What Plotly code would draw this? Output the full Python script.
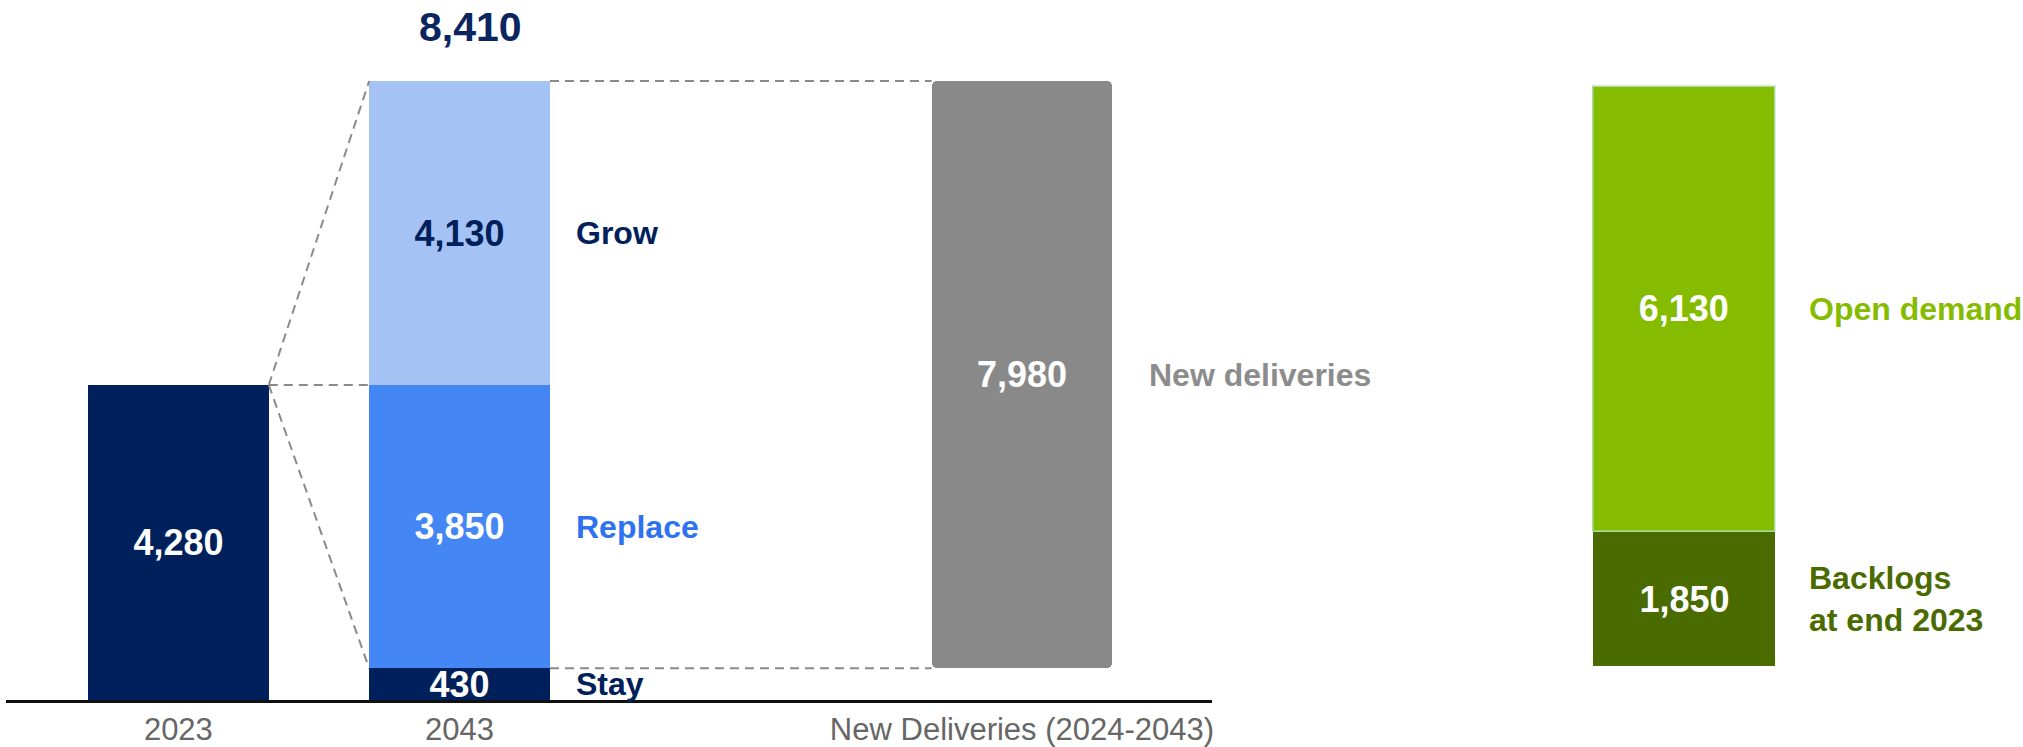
import plotly.graph_objects as go

# ---------------- data ----------------
categories = ["2023", "2043", " ", "New Deliveries (2024-2043)"]
fleet_2023 = [4280]
stay = [430]
replace = [3850]
grow = [4130]
total_2043 = 8410
new_deliveries = [7980]
backlog = [1850]
open_demand = [6130]
segment_labels = ["Stay", "Replace", "Grow"]
delivery_label = "New deliveries"
demand_labels = ["Backlogs<br>at end 2023", "Open demand"]

# ---------------- style ----------------
FONT = "Liberation Sans, Arial, Helvetica, sans-serif"
NAVY = "#00205B"
LIGHT_BLUE = "#A4C3F4"
BLUE = "#4386F4"
BLUE_TXT = "#2E72F2"
GREY = "#898989"
GREEN = "#86BC00"
DARK_GREEN = "#4A6B00"
BW = 0.643          # bar width on main axis
BW2 = 0.6454        # bar width on right axis
hw = BW / 2
hw2 = BW2 / 2

fmt = lambda v: f"{v:,}"

fig = go.Figure()

def add_bar(x, y, base, color, textcolor="white", xaxis="x", yaxis="y", line=None, corner=None):
    fig.add_trace(go.Bar(
        x=x, y=y, base=base, width=BW if xaxis == "x" else BW2,
        marker=dict(color=color, line=line or dict(width=0), cornerradius=corner),
        text=[fmt(v) for v in y], textposition="inside", insidetextanchor="middle",
        constraintext="none",
        textfont=dict(family=FONT, size=36, color=textcolor, weight="bold"),
        xaxis=xaxis, yaxis=yaxis, showlegend=False, hoverinfo="skip",
    ))

add_bar([categories[0]], fleet_2023, [0], NAVY)
add_bar([categories[1]], stay, [0], NAVY)
add_bar([categories[1]], replace, [stay[0]], BLUE)
add_bar([categories[1]], grow, [stay[0] + replace[0]], LIGHT_BLUE, textcolor=NAVY)
add_bar([categories[3]], new_deliveries, [stay[0]], GREY, corner=5)

add_bar(["Demand"], backlog, [0], DARK_GREEN, xaxis="x2", yaxis="y2")
add_bar(["Demand"], open_demand, [backlog[0]], GREEN, xaxis="x2", yaxis="y2",
        line=dict(color="#A8DCA0", width=1.5))

# ---------------- connectors ----------------
dash = dict(color="#8a8a8a", width=2, dash="9px,6px")
top_2023 = fleet_2023[0]
conns = [
    (0 + hw, top_2023, 1 - hw, total_2043),
    (0 + hw, top_2023, 1 - hw, top_2023),
    (0 + hw, top_2023, 1 - hw, stay[0]),
    (1 + hw, total_2043, 3 - hw, total_2043),
    (1 + hw, stay[0], 3 - hw, stay[0]),
]
for x0, y0, x1, y1 in conns:
    fig.add_shape(type="line", xref="x", yref="y", x0=x0, y0=y0, x1=x1, y1=y1, line=dash)

# ---------------- annotations ----------------
def lab(text, x, y, color, xshift, xref="x", yref="y", size=32):
    fig.add_annotation(text=f"<b>{text}</b>", x=x, y=y, xref=xref, yref=yref,
                       xanchor="left", yanchor="middle", xshift=xshift, showarrow=False,
                       align="left", font=dict(family=FONT, size=size, color=color))

lab(segment_labels[2], 1 + hw, stay[0] + replace[0] + grow[0] / 2, NAVY, 24)
lab(segment_labels[1], 1 + hw, stay[0] + replace[0] / 2, BLUE_TXT, 24)
lab(segment_labels[0], 1 + hw, stay[0] / 2, NAVY, 24)
lab(delivery_label, 3 + hw, stay[0] + new_deliveries[0] / 2, "#8C8C8C", 35)
lab(demand_labels[1], hw2, backlog[0] + open_demand[0] / 2, GREEN, 32, xref="x2", yref="y2")
lab(demand_labels[0], hw2, backlog[0] / 2, DARK_GREEN, 32, xref="x2", yref="y2")

# total above the 2043 stack (x = index of the "2043" category)
fig.add_annotation(text=f"<b>{fmt(total_2043)}</b>", x=categories.index("2043"), y=total_2043,
                   xref="x", yref="y", xanchor="center", yanchor="middle",
                   xshift=11, yshift=54,
                   showarrow=False, font=dict(family=FONT, size=41, color="#0A2560"))

# ---------------- layout ----------------
W, H = 2023, 747
fig.update_layout(
    width=W, height=H, margin=dict(l=0, r=0, t=0, b=47),
    paper_bgcolor="white", plot_bgcolor="white",
    barmode="overlay", bargap=0,
    xaxis=dict(type="category", categoryorder="array", categoryarray=categories,
               range=[-0.613, 3.675], domain=[6 / W, 1213 / W],
               showline=True, linecolor="#111111", linewidth=2.5,
               ticks="", showgrid=False, zeroline=False,
               tickfont=dict(family=FONT, size=31, color="#666666")),
    yaxis=dict(range=[0, 9510], visible=False, showgrid=False, zeroline=False),
    xaxis2=dict(domain=[(1686 - 141) / W, (1686 + 141) / W], range=[-0.5, 0.5],
                anchor="y2", visible=False, type="category"),
    yaxis2=dict(domain=[34 / 700, 1], range=[0, 9179], anchor="x2", visible=False),
)

fig.write_html("out.html")
